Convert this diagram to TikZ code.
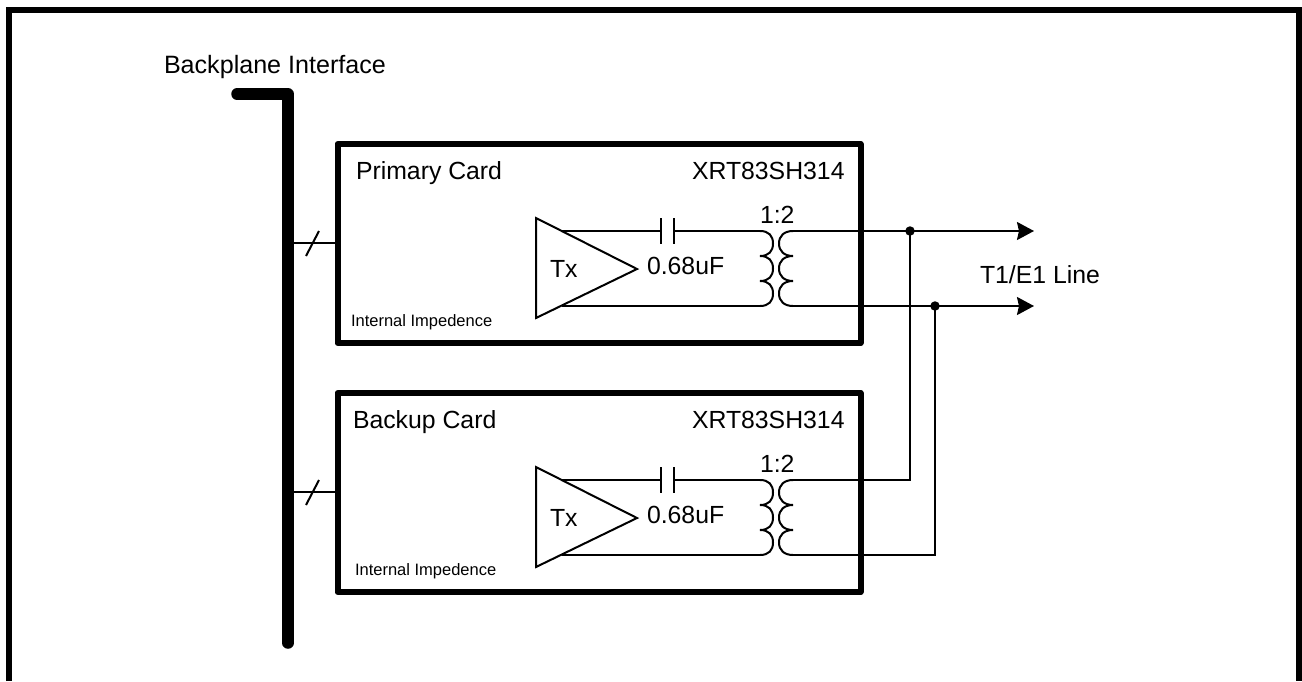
\documentclass[tikz,border=0pt]{standalone}
\usepackage{fontspec}
\setmainfont{Liberation Sans}
\usetikzlibrary{arrows.meta}
\newcommand{\bigfont}{\fontsize{24.8}{28}\selectfont}
\newcommand{\widefont}{\fontsize{25.1}{28}\selectfont}
\newcommand{\smallfont}{\fontsize{16.5}{20}\selectfont}
\tikzset{
  x=1pt,y=-1pt,
  wire/.style={line width=2pt,line cap=butt},
  thick box/.style={line width=6pt,line join=round,outer sep=0pt,inner sep=0pt,minimum width=523pt,minimum height=199pt,anchor=north west},
  label/.style={inner sep=0pt,outer sep=0pt,anchor=base west,font=\bigfont,text=black},
  small label/.style={label,font=\smallfont},
  dot/.style={circle,fill=black,inner sep=0pt,outer sep=0pt,minimum size=9.5pt},
  lineout/.style={wire,-{Stealth[length=17pt,width=18pt,inset=2pt]}},
  ampli/.style={line width=2pt,line join=miter}
}
\newcommand{\coilL}[1]{% bulges right: four points at y, y+25, y+50, y+75
  (760,#1) .. controls (769,#1) and (773,#1+5) .. (773,#1+12.5) .. controls (773,#1+20) and (769,#1+25) .. (760,#1+25)
  .. controls (769,#1+25) and (773,#1+30) .. (773,#1+37.5) .. controls (773,#1+45) and (769,#1+50) .. (760,#1+50)
  .. controls (769,#1+50) and (773,#1+55) .. (773,#1+62.5) .. controls (773,#1+70) and (769,#1+75) .. (760,#1+75)}
\newcommand{\coilR}[1]{% bulges left
  (793,#1) .. controls (784,#1) and (779,#1+5) .. (779,#1+12.5) .. controls (779,#1+20) and (784,#1+25) .. (793,#1+25)
  .. controls (784,#1+25) and (779,#1+30) .. (779,#1+37.5) .. controls (779,#1+45) and (784,#1+50) .. (793,#1+50)
  .. controls (784,#1+50) and (779,#1+55) .. (779,#1+62.5) .. controls (779,#1+70) and (784,#1+75) .. (793,#1+75)}
\begin{document}
\begin{tikzpicture}
\useasboundingbox (0,0) rectangle (1302,681);
% outer frame (open at bottom)
\draw[line width=6pt,line join=miter] (9,681) -- (9,10) -- (1299,10) -- (1299,681);

% backplane bus
\coordinate (busL) at (237,94);
\coordinate (busC) at (288,94);
\coordinate (busB) at (288,643);
\draw[line width=11.5pt,line cap=round,line join=round] (busL) -- (busC) -- (busB);
\node[label,font=\widefont] (bp) at (164,73) {Backplane Interface};

% cards
\node[draw,thick box] (card1) at (337.5,144) {};
\node[draw,thick box] (card2) at (337.5,393) {};
\node[label] (p) at (356,179) {Primary Card};
\node[label] (b) at (353,428) {Backup Card};
\node[label] (x1) at (692,179) {XRT83SH314};
\node[label] (x2) at (692,428) {XRT83SH314};
\node[small label] (i1) at (351,326) {Internal Impedence};
\node[small label] (i2) at (355,575) {Internal Impedence};

% bus stubs
\coordinate (s1) at (busC |- 0,243);
\coordinate (s2) at (busC |- 0,492);
\draw[wire] (s1) -- (s1 -| card1.west);
\draw[wire] (s2) -- (s2 -| card2.west);
\coordinate (t1a) at (306,256); \coordinate (t1b) at (319,231);
\coordinate (t2a) at (306,505); \coordinate (t2b) at (319,480);
\draw[wire] (t1a) -- (t1b);
\draw[wire] (t2a) -- (t2b);

% primary Tx
\coordinate (a1) at (536,218); \coordinate (a2) at (536,318); \coordinate (a3) at (637,269);
\draw[ampli] (a1) -- (a3) -- (a2) -- cycle;
\draw[wire] (561,231) -- (661,231);
\draw[wire] (674,231) -- (760,231);
\draw[wire] (562,306) -- (760,306);
\draw[wire] (661,218) -- (661,244);
\draw[wire] (674,218) -- (674,244);
\draw[wire] \coilL{231};
\draw[wire] \coilR{231};
\node[label] (tx1) at (550,277) {Tx};
\node[label] (c1) at (647,274) {0.68uF};
\node[label] (r1) at (760,223) {1:2};

% backup Tx
\coordinate (b1) at (536,467); \coordinate (b2) at (536,567); \coordinate (b3) at (637,518);
\draw[ampli] (b1) -- (b3) -- (b2) -- cycle;
\draw[wire] (561,480) -- (661,480);
\draw[wire] (674,480) -- (760,480);
\draw[wire] (562,555) -- (760,555);
\draw[wire] (661,467) -- (661,493);
\draw[wire] (674,467) -- (674,493);
\draw[wire] \coilL{480};
\draw[wire] \coilR{480};
\node[label] (tx2) at (550,526) {Tx};
\node[label] (c2) at (647,523) {0.68uF};
\node[label] (r2) at (760,472) {1:2};

% line outputs
\node[dot] (d1) at (910,231) {};
\node[dot] (d2) at (935,306) {};
\coordinate (o1) at (1034,231);
\coordinate (o2) at (1034,306);
\draw[lineout] (793,231) -- (o1);
\draw[lineout] (793,306) -- (o2);
\draw[wire,line join=miter] (d1.center) -- (910,480) -- (793,480);
\draw[wire,line join=miter] (d2.center) -- (935,555) -- (793,555);
\node[label] (line) at (980,283) {T1/E1 Line};
\end{tikzpicture}
\end{document}
